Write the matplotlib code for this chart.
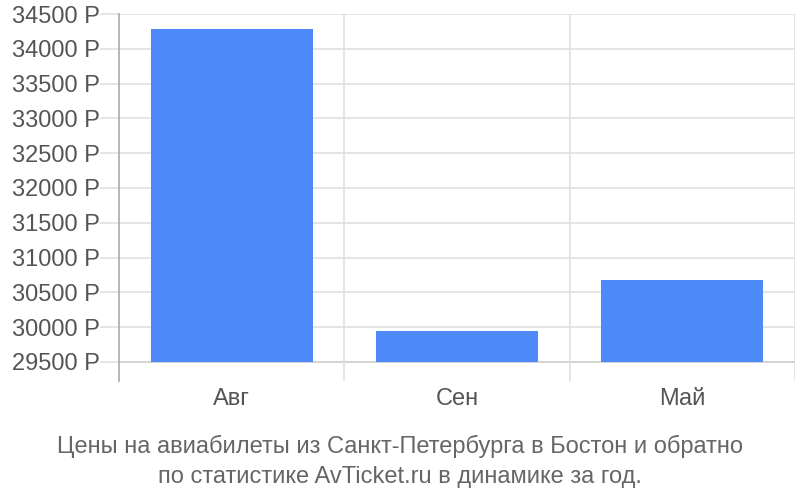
import matplotlib
matplotlib.use("Agg")
import matplotlib.pyplot as plt

months = ["Авг", "Сен", "Май"]
prices = [34280, 29940, 30680]
yticks = [29500, 30000, 30500, 31000, 31500, 32000, 32500, 33000, 33500, 34000, 34500]

plt.rcParams['font.family'] = ['Liberation Sans', 'DejaVu Sans']

fig = plt.figure(figsize=(8, 5), dpi=100)
ax = fig.add_axes([0.149, 0.238, 0.84475, 0.734])

base = 29500
ax.bar(range(len(months)), [p - base for p in prices], bottom=base,
       width=0.72, color="#4d89f9", zorder=3)

ax.set_xlim(-0.5, 2.5)
ax.set_ylim(29227, 34500)
ax.set_yticks(yticks)
ax.set_yticklabels([f"{v} Р" for v in yticks])
ax.set_xticks(range(len(months)))
ax.set_xticklabels(months)

for y in yticks:
    ax.axhline(y, color="#cccccc" if y == base else "#e0e0e0", lw=1.2, zorder=1)
for x in [0.5, 1.5, 2.5]:
    ax.axvline(x, color="#e0e0e0", lw=1.2, zorder=1)

for s in ["top", "right", "bottom"]:
    ax.spines[s].set_visible(False)
ax.spines["left"].set_color("#aaaaaa")
ax.spines["left"].set_linewidth(1.2)

ax.tick_params(axis="y", length=14, color="#e0e0e0", width=1.2,
               labelsize=17, labelcolor="#555555", pad=0)
ax.tick_params(axis="x", length=0, labelsize=17, labelcolor="#555555", pad=5)

fig.text(0.5, 0.077, "Цены на авиабилеты из Санкт-Петербурга в Бостон и обратно\n"
         "по статистике AvTicket.ru в динамике за год.",
         ha="center", va="center", fontsize=17, color="#666666", linespacing=1.45)

fig.savefig("out.png", dpi=100)
